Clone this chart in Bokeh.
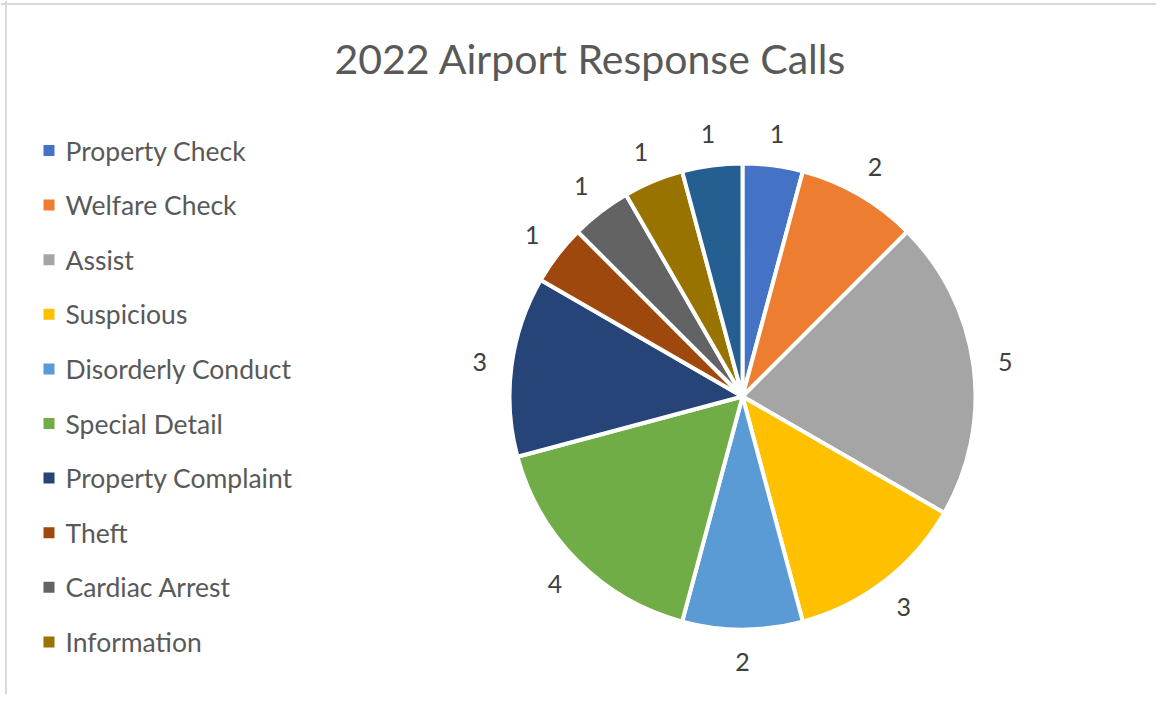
import math
from bokeh.plotting import figure
from bokeh.models import Range1d, ColumnDataSource, Span
from bokeh.core.properties import value
from bokeh.embed import file_html
from bokeh.resources import INLINE

title = "2022 Airport Response Calls"
categories = ["Property Check", "Welfare Check", "Assist", "Suspicious",
              "Disorderly Conduct", "Special Detail", "Property Complaint",
              "Theft", "Cardiac Arrest", "Information", "Other"]
counts = [1, 2, 5, 3, 2, 4, 3, 1, 1, 1, 1]
colors = ["#4472C4", "#ED7D31", "#A5A5A5", "#FFC000", "#5B9BD5", "#70AD47",
          "#264478", "#9E480E", "#636363", "#997300", "#255E91"]
legend_shown = 10  # legend is cut off after "Information"

W, H = 1156, 694
FONT = "Lato"

p = figure(width=W, height=H, output_backend="svg", toolbar_location=None,
           x_range=Range1d(0, W), y_range=Range1d(0, H),
           min_border=0, outline_line_color=None)
p.axis.visible = False
p.grid.visible = False
p.background_fill_color = "white"
p.border_fill_color = "white"

def sy(screen_y):
    return H - screen_y

cx, cy, R = 742, sy(396), 233
total = sum(counts)
starts, ends, mids = [], [], []
cum = 0
for c in counts:
    a0 = math.pi / 2 - 2 * math.pi * cum / total
    cum += c
    a1 = math.pi / 2 - 2 * math.pi * cum / total
    starts.append(a0)
    ends.append(a1)
    mids.append((a0 + a1) / 2)

src = ColumnDataSource(dict(start=starts, end=ends, color=colors,
                            cat=categories, count=counts))
p.wedge(x=cx, y=cy, radius=R, start_angle="start", end_angle="end",
        direction="clock", fill_color="color", line_color="white",
        line_width=4, source=src)

RL = 265
lx = [cx + RL * math.cos(m) for m in mids]
ly = [cy + RL * math.sin(m) for m in mids]
p.text(x=lx, y=ly, text=[str(c) for c in counts], text_font=value(FONT),
       text_font_size="25px", text_color="#404040", text_align="center",
       text_baseline="middle")

# title
p.text(x=[590], y=[sy(58)], text=[title], text_font=value(FONT),
       text_font_size="41px", text_color="#595959", text_align="center",
       text_baseline="middle")

# legend
leg_y = [sy(150 + i * 54.6) for i in range(legend_shown)]
p.rect(x=[48.5] * legend_shown, y=leg_y, width=11, height=11,
       fill_color=colors[:legend_shown], line_color=None)
p.text(x=[65] * legend_shown, y=leg_y, text=categories[:legend_shown],
       text_font=value(FONT), text_font_size="26.5px", text_color="#595959",
       text_align="left", text_baseline="middle")

# chart border (top and left edges visible)
p.add_layout(Span(location=sy(3.5), dimension="width", line_color="#D9D9D9", line_width=2))
p.add_layout(Span(location=5.5, dimension="height", line_color="#D9D9D9", line_width=2))

open("out.html", "w").write(file_html(p, INLINE))
